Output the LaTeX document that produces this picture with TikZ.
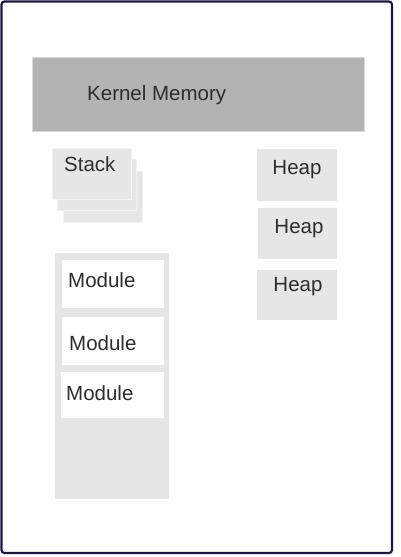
\documentclass[tikz,border=0pt]{standalone}
\usepackage{fontspec}
\setmainfont{Liberation Sans}
\usepackage{xcolor}
\usetikzlibrary{positioning}
\definecolor{frameblue}{RGB}{28,20,68}
\definecolor{kernelgray}{RGB}{179,179,179}
\definecolor{lightgray}{RGB}{230,230,230}
\definecolor{inkgray}{RGB}{45,45,45}

\begin{document}
\begin{tikzpicture}[
  x=1pt,y=-1pt,
  block/.style={rectangle,anchor=north west,inner sep=0pt,outer sep=0pt},
  kernelbox/.style={block,fill=kernelgray,draw=gray!30,line width=0.5pt},
  stackbox/.style={block,fill=lightgray,draw=lightgray!50!white,line width=0.5pt,
                   minimum width=79pt,minimum height=51pt},
  heapbox/.style={block,fill=lightgray,minimum width=80pt,minimum height=51pt},
  modpanel/.style={block,fill=lightgray},
  modbox/.style={block,fill=white},
  caption/.style={inner sep=0pt,anchor=base west,text=inkgray,
                  font=\fontsize{20.5}{24}\selectfont}
]
\useasboundingbox (0,0) rectangle (400,557);
\draw[frameblue,line width=2.2pt,rounded corners=3pt] (1.5,1.5) rectangle (392,553);

\node[kernelbox,minimum width=332pt,minimum height=74pt] (kernel) at (32,57) {};
\node[caption] (kerneltext) at (87,100) {Kernel Memory};

\node[stackbox] (stackC) at (63,171) {};
\node[stackbox] (stackB) at (57.5,159.5) {};
\node[stackbox] (stackA) at (52,148) {};
\node[caption] (stacktext) at (64,171.5) {Stack};

\node[heapbox,minimum height=52pt] (heapA) at (257,149) {};
\node[heapbox,minimum width=79pt] (heapB) at (258,208) {};
\node[heapbox,minimum height=50pt] (heapC) at (257,270) {};
\node[caption,anchor=base] (heaptextA) at (297,174) {Heap};
\node[caption,anchor=base] (heaptextB) at (299,233) {Heap};
\node[caption,anchor=base] (heaptextC) at (298,291.5) {Heap};

\node[modpanel,minimum width=114pt,minimum height=246pt] (modules) at (55,253) {};
\node[modbox,minimum width=102.5pt,minimum height=48pt] (modA) at (61.5,260) {};
\node[modbox,minimum width=102pt,minimum height=48.5pt] (modB) at (62,316.5) {};
\node[modbox,minimum width=103.5pt,minimum height=46pt] (modC) at (60.5,372) {};
\node[caption] (modtextA) at (68,287) {Module};
\node[caption] (modtextB) at (69,350) {Module};
\node[caption] (modtextC) at (66,400.5) {Module};
\end{tikzpicture}
\end{document}
